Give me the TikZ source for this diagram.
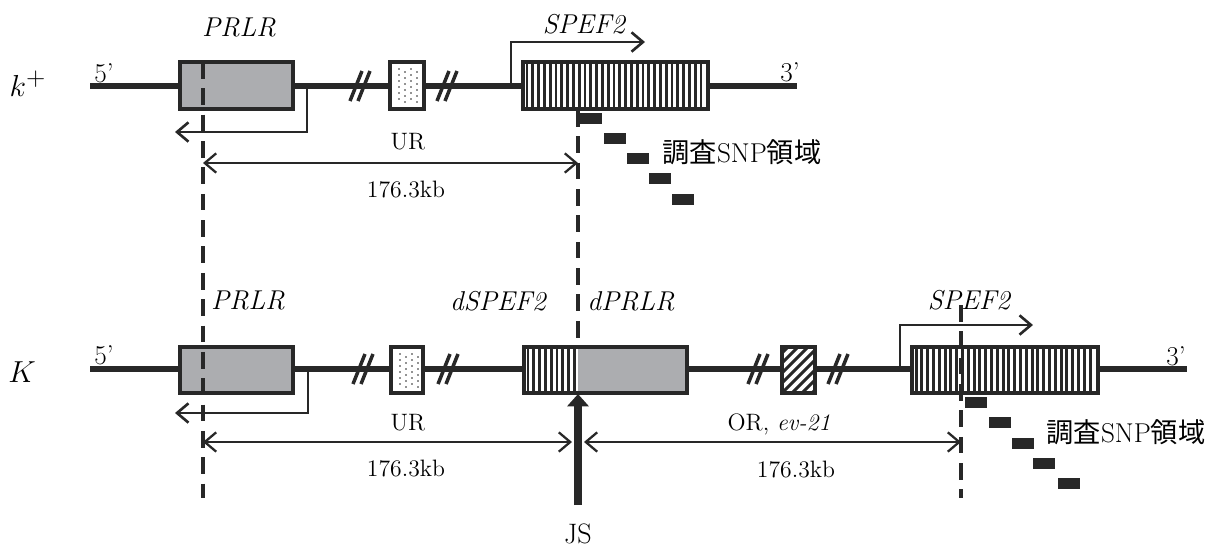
\documentclass[tikz,border=0pt]{standalone}
\usepackage{fontspec}
\newfontfamily\cjk{Noto Sans CJK JP}
\usetikzlibrary{arrows.meta}
\definecolor{ink}{RGB}{40,40,40}
\definecolor{boxgray}{RGB}{172,173,176}
\tikzset{
  dna/.style={ink,line width=3.4pt},
  genebox/.style={ink,line width=2.6pt},
  hatchline/.style={ink,line width=1.7pt},
  promoter/.style={ink,line width=1.5pt,-{Straight Barb[length=6.5pt,width=11pt]}},
  dimline/.style={ink,line width=1.3pt,{Straight Barb[length=6.5pt,width=11pt]}-{Straight Barb[length=6.5pt,width=11pt]}},
  cutline/.style={ink,line width=1.8pt,dash pattern=on 9.5pt off 5.5pt},
  snp/.style={fill=ink},
  gene/.style={font=\fontsize{15.5}{17}\selectfont\itshape},
  lbl/.style={font=\fontsize{13.5}{15}\selectfont},
  endlbl/.style={font=\fontsize{15.5}{17}\selectfont},
  strain/.style={font=\fontsize{19}{21}\selectfont},
  snptext/.style={font=\fontsize{15.5}{17}\selectfont},
}
% two slashes across the backbone
\newcommand{\dnabreak}[2]{\draw[ink,line width=2pt] (#1-10,#2+15) -- (#1+2,#2-15) (#1-2,#2+15) -- (#1+10,#2-15);}
\begin{document}
\begin{tikzpicture}[x=0.02cm,y=-0.02cm]
\useasboundingbox (0,0) rectangle (1211,549);

% k+ allele
\draw[dna] (90,86) -- (797,86);
\draw[genebox,fill=boxgray] (180,62) rectangle (293,109);
\dnabreak{360}{86}
\dnabreak{447}{86}
\draw[genebox,fill=white] (390,62) rectangle (424,109);
\foreach \x in {399,411} \foreach \y in {69,75,...,104} \fill[ink] (\x,\y) circle (0.45pt);
\foreach \x in {405,417} \foreach \y in {72,78,...,104} \fill[ink] (\x,\y) circle (0.45pt);
\draw[genebox,fill=white] (523,62) rectangle (708,109);
\foreach \x in {527,532.8,...,705} \draw[hatchline] (\x,62) -- (\x,109);
\draw[genebox] (523,62) rectangle (708,109);
\foreach \x/\y in {580/113,604/133,627/153,649/173,672/194} \fill[snp] (\x,\y) rectangle ++(22,11);

\node[strain] (kplus) at (28,84) {$k^{+}$};
\node[endlbl] (fiveA) at (104,73) {5’};
\node[endlbl] (threeA) at (790,72) {3’};
\node[gene] (prlrA) at (239,27) {PRLR};
\node[gene] (spefA) at (584,24) {SPEF2};
\node[lbl] (urA) at (408,142) {UR};
\node[lbl] (kbA) at (406,190) {176.3kb};
\node[snptext] (snpA) at (742,152) {{\cjk 調査}SNP{\cjk 領域}};

\coordinate (prlrTss) at (307,86);
\coordinate (spefTss) at (511,86);
\draw[promoter] (prlrTss) |- (175,132);
\draw[promoter] (spefTss) |- (645,42);

% K allele
\draw[dna] (90,369) -- (1187,369);
\draw[genebox,fill=boxgray] (180,347) rectangle (293,393);
\dnabreak{363}{369}
\dnabreak{448}{369}
\draw[genebox,fill=white] (391,347) rectangle (423,393);
\foreach \x in {400,412} \foreach \y in {354,360,...,389} \fill[ink] (\x,\y) circle (0.45pt);
\foreach \x in {406,418} \foreach \y in {357,363,...,389} \fill[ink] (\x,\y) circle (0.45pt);
\fill[boxgray] (578,347) rectangle (687,393);
\fill[white] (524,347) rectangle (578,393);
\foreach \x in {528,533.8,...,576} \draw[hatchline] (\x,347) -- (\x,393);
\draw[genebox] (524,347) rectangle (687,393);
\dnabreak{758}{369}
\dnabreak{838}{369}
\draw[genebox,fill=white] (782,347) rectangle (815,393);
\begin{scope}
  \clip (782,347) rectangle (815,393);
  \foreach \i in {-50,-40,...,40} \draw[hatchline] (782+\i,393) -- ++(50,-50);
\end{scope}
\draw[genebox] (782,347) rectangle (815,393);
\draw[genebox,fill=white] (912,347) rectangle (1098,393);
\foreach \x in {916,921.8,...,1095} \draw[hatchline] (\x,347) -- (\x,393);
\draw[genebox] (912,347) rectangle (1098,393);
\foreach \x/\y in {965/397,989/417,1012/438,1033/458,1058/478} \fill[snp] (\x,\y) rectangle ++(22,11);

\node[strain] (kbig) at (22,372) {$K$};
\node[endlbl] (fiveB) at (104,355) {5’};
\node[endlbl] (threeB) at (1176,356) {3’};
\node[gene] (prlrB) at (248,300) {PRLR};
\node[gene] (dspef) at (498,301) {dSPEF2};
\node[gene] (dprlr) at (631,301) {dPRLR};
\node[gene] (spefB) at (969,300) {SPEF2};
\node[lbl] (urB) at (408,423) {UR};
\node[lbl] (kbB) at (406,469) {176.3kb};
\node[lbl] (orB) at (779,424) {OR, \textit{ev-21}};
\node[lbl] (kbC) at (796,470) {176.3kb};
\node[snptext] (snpB) at (1126,432) {{\cjk 調査}SNP{\cjk 領域}};
\node[font=\fontsize{16}{18}\selectfont,inner sep=1pt] (js) at (578,534) {JS};

\coordinate (prlrTssB) at (308,369);
\coordinate (spefTssB) at (900,369);
\draw[promoter] (prlrTssB) |- (175,413);
\draw[promoter] (spefTssB) |- (1033,325);

% cut positions and distances
\coordinate (cutP) at (203,0);
\coordinate (cutJ) at (578,0);
\coordinate (cutS) at (961,0);
\draw[cutline] (cutP |- 0,62) -- (cutP |- 0,498);
\draw[cutline] (cutJ |- 0,110) -- (cutJ |- 0,347);
\draw[cutline] (cutS |- 0,305) -- (cutS |- 0,498);
\draw[dimline] (cutP |- 0,163) -- (cutJ |- 0,163);
\draw[dimline] (cutP |- 0,442) -- (572,442);
\draw[dimline] (584,442) -- (cutS |- 0,442);
\draw[ink,line width=5pt,-{Triangle[length=7pt,width=12pt]}] (js.north |- 0,505) -- (578,394);
\end{tikzpicture}
\end{document}
